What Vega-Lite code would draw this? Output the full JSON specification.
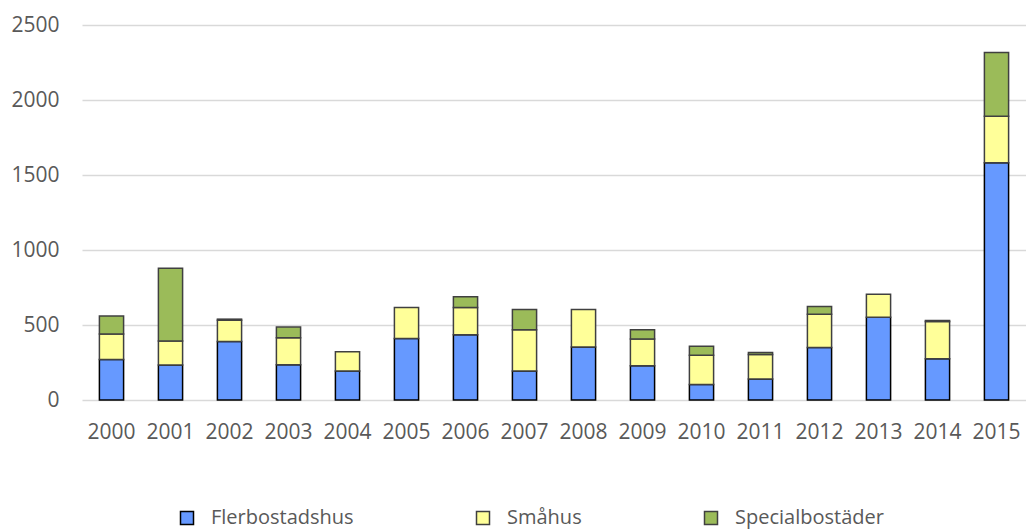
{
  "$schema": "https://vega.github.io/schema/vega-lite/v6.json",
  "autosize": {"type": "none"},
  "padding": {"left": 82, "top": 25, "right": 0, "bottom": 132},
  "width": 944,
  "height": 375,
  "background": "white",
  "config": {
    "view": {"stroke": null},
    "font": "Open Sans"
  },
  "data": {
    "values": [
      {"year": "2000", "typ": "Flerbostadshus", "antal": 270},
      {"year": "2000", "typ": "Småhus", "antal": 170},
      {"year": "2000", "typ": "Specialbostäder", "antal": 120},
      {"year": "2001", "typ": "Flerbostadshus", "antal": 233},
      {"year": "2001", "typ": "Småhus", "antal": 160},
      {"year": "2001", "typ": "Specialbostäder", "antal": 485},
      {"year": "2002", "typ": "Flerbostadshus", "antal": 390},
      {"year": "2002", "typ": "Småhus", "antal": 142},
      {"year": "2002", "typ": "Specialbostäder", "antal": 7},
      {"year": "2003", "typ": "Flerbostadshus", "antal": 235},
      {"year": "2003", "typ": "Småhus", "antal": 180},
      {"year": "2003", "typ": "Specialbostäder", "antal": 71},
      {"year": "2004", "typ": "Flerbostadshus", "antal": 193},
      {"year": "2004", "typ": "Småhus", "antal": 129},
      {"year": "2005", "typ": "Flerbostadshus", "antal": 410},
      {"year": "2005", "typ": "Småhus", "antal": 207},
      {"year": "2006", "typ": "Flerbostadshus", "antal": 435},
      {"year": "2006", "typ": "Småhus", "antal": 182},
      {"year": "2006", "typ": "Specialbostäder", "antal": 71},
      {"year": "2007", "typ": "Flerbostadshus", "antal": 193},
      {"year": "2007", "typ": "Småhus", "antal": 275},
      {"year": "2007", "typ": "Specialbostäder", "antal": 135},
      {"year": "2008", "typ": "Flerbostadshus", "antal": 353},
      {"year": "2008", "typ": "Småhus", "antal": 250},
      {"year": "2009", "typ": "Flerbostadshus", "antal": 228},
      {"year": "2009", "typ": "Småhus", "antal": 178},
      {"year": "2009", "typ": "Specialbostäder", "antal": 62},
      {"year": "2010", "typ": "Flerbostadshus", "antal": 104},
      {"year": "2010", "typ": "Småhus", "antal": 195},
      {"year": "2010", "typ": "Specialbostäder", "antal": 60},
      {"year": "2011", "typ": "Flerbostadshus", "antal": 140},
      {"year": "2011", "typ": "Småhus", "antal": 164},
      {"year": "2011", "typ": "Specialbostäder", "antal": 13},
      {"year": "2012", "typ": "Flerbostadshus", "antal": 350},
      {"year": "2012", "typ": "Småhus", "antal": 222},
      {"year": "2012", "typ": "Specialbostäder", "antal": 51},
      {"year": "2013", "typ": "Flerbostadshus", "antal": 552},
      {"year": "2013", "typ": "Småhus", "antal": 153},
      {"year": "2014", "typ": "Flerbostadshus", "antal": 275},
      {"year": "2014", "typ": "Småhus", "antal": 248},
      {"year": "2014", "typ": "Specialbostäder", "antal": 7},
      {"year": "2015", "typ": "Flerbostadshus", "antal": 1582},
      {"year": "2015", "typ": "Småhus", "antal": 310},
      {"year": "2015", "typ": "Specialbostäder", "antal": 424}
    ]
  },
  "mark": {"type": "bar", "strokeWidth": 1.5},
  "encoding": {
    "x": {
      "field": "year", "type": "ordinal",
      "scale": {"paddingInner": 0.59, "paddingOuter": 0.295},
      "axis": {
        "title": null, "labelAngle": 0, "ticks": false, "domain": false,
        "labelFontSize": 21, "labelColor": "#595959", "labelPadding": 21, "grid": false
      }
    },
    "y": {
      "field": "antal", "type": "quantitative", "stack": "zero",
      "scale": {"domain": [0, 2500], "nice": false},
      "axis": {
        "title": null, "values": [0, 500, 1000, 1500, 2000, 2500], "format": "d",
        "ticks": false, "domain": false, "labelFontSize": 21, "labelColor": "#595959",
        "labelPadding": 23, "gridColor": "#D9D9D9", "gridWidth": 1.3
      }
    },
    "fill": {
      "field": "typ", "type": "nominal",
      "scale": {
        "domain": ["Flerbostadshus", "Småhus", "Specialbostäder"],
        "range": ["#6699FF", "#FFFF99", "#9BBB59"]
      },
      "legend": {
        "title": null, "orient": "none", "direction": "horizontal", "columns": 3,
        "legendX": 95, "legendY": 483,
        "symbolType": "square", "symbolSize": 169, "symbolStrokeWidth": 1.5,
        "labelFontSize": 20, "labelColor": "#595959", "labelOffset": 14,
        "columnPadding": 119
      }
    },
    "stroke": {
      "field": "typ", "type": "nominal",
      "scale": {
        "domain": ["Flerbostadshus", "Småhus", "Specialbostäder"],
        "range": ["#000000", "#404040", "#404040"]
      }
    },
    "order": {"field": "typ", "sort": "ascending"}
  }
}
